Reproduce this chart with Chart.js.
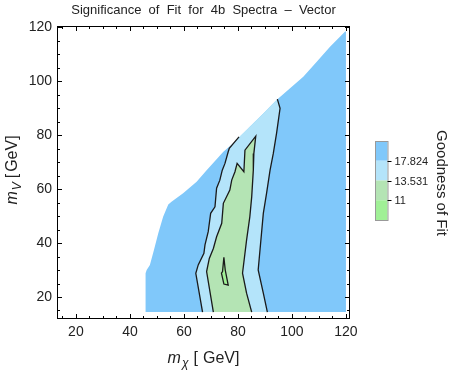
<!DOCTYPE html>
<html>
<head>
<meta charset="utf-8">
<script src="https://cdn.jsdelivr.net/npm/chart.js@4.4.1/dist/chart.umd.min.js"></script>
<style>
  html, body { margin: 0; padding: 0; background: #fff; }
  #wrap { width: 455px; height: 374px; }
</style>
</head>
<body>
<div id="wrap"><canvas id="fitChart" width="455" height="374"></canvas></div>
<script>
// points, [m_chi, m_V] in GeV
const domainEdge = [[45.6,14.4],[45.8,28.8],[46.2,30.0],[47.4,31.9],[48.9,37.4],[50.5,43.6],[52.3,49.7],
  [54.2,54.3],[55.4,55.3],[59.7,58.4],[64.7,62.7],[68.4,67.0],[74.6,73.8],[79.5,78.1],[84.4,83.1],
  [89.4,88.0],[94.3,93.0],[99.3,97.3],[104.2,101.6],[109.1,107.1],[114.1,112.7],[119.6,118.3],[120,118.5],[120,14.4]];
// contour at 17.824 (left and right branch)
const outerLeft = [[66.9,14.4],[64.4,28.8],[65.3,31.9],[67.4,36.2],[67.8,39.3],[69.0,44.2],[69.9,51.0],[71.5,53.4],
  [72.1,60.3],[73.3,63.3],[74.2,67.0],[75.2,69.5],[76.4,73.8],[76.8,75.1],[80.4,79.3]];
const outerRight = [[94.6,93.3],[95.6,89.9],[94.3,80.6],[93.1,73.2],[91.9,67.0],[90.6,58.4],[89.4,51.0],
  [87.5,30.0],[89.4,21.4],[90.9,14.4]];
// contour at 13.531
const innerLeft = [[70.9,14.4],[68.4,29.4],[69.4,34.3],[70.9,38.0],[72.1,42.3],[74.0,47.3],[74.6,54.7],[77.0,59.6],
  [77.7,63.3],[78.9,66.4],[79.7,69.5],[82.2,66.4],[82.6,74.4],[86.6,79.6]];
const innerRight = [[85.9,73.2],[85.7,67.0],[85.1,57.1],[84.4,49.7],[83.2,41.1],[81.7,28.8],[83.2,21.4],[85.1,14.4]];
// small island below 11
const coreLoop = [[74.8,34.7],[74.3,29.4],[73.9,28.8],[74.8,24.8],[76.4,24.4],[75.3,30.0]];

const xTicks = [20, 40, 60, 80, 100, 120];
const yTicks = [20, 40, 60, 80, 100, 120];
const levels = [17.824, 13.531, 11];
const levelColors = ['#80c8fa', '#b4e4fa', '#b4e4b4', '#a0f096'];

const font = "'Liberation Sans', Arial, sans-serif";
const ink = '#222';

function pts(list) { return list.map(p => ({x: p[0], y: p[1]})); }
function area(list, color) {
  return {data: pts(list), showLine: true, fill: 'shape', backgroundColor: color,
    borderColor: 'rgba(0,0,0,0)', borderWidth: 0, pointRadius: 0, tension: 0};
}
function contour(list) {
  return {data: pts(list), showLine: true, fill: false, borderColor: '#1a1a1a',
    borderWidth: 1.3, pointRadius: 0, tension: 0};
}

const edgePart = domainEdge.filter(p => p[0] > outerLeft[outerLeft.length - 1][0] && p[0] < outerRight[0][0]);
const lightBlue = outerLeft.concat(edgePart, outerRight);
const green = innerLeft.concat(innerRight);

// frame with inward ticks, tick labels, axis labels and the colour bar
const decor = {
  id: 'decor',
  afterDraw(chart) {
    const {ctx, chartArea: a, scales: {x, y}} = chart;
    ctx.save();
    ctx.strokeStyle = '#000';
    ctx.lineWidth = 1;
    ctx.strokeRect(a.left + 0.5, a.top + 0.5, a.width - 1, a.height - 1);

    ctx.beginPath();
    for (let v = 15; v <= 120; v += 5) {
      const len = xTicks.includes(v) ? 5 : 3;
      const px = Math.round(x.getPixelForValue(v)) + 0.5;
      ctx.moveTo(px, a.bottom); ctx.lineTo(px, a.bottom - len);
      ctx.moveTo(px, a.top); ctx.lineTo(px, a.top + len);
      const py = Math.round(y.getPixelForValue(v)) + 0.5;
      ctx.moveTo(a.left, py); ctx.lineTo(a.left + len, py);
      ctx.moveTo(a.right, py); ctx.lineTo(a.right - len, py);
    }
    ctx.stroke();

    ctx.fillStyle = ink;
    ctx.font = '14px ' + font;
    ctx.textBaseline = 'middle';
    ctx.textAlign = 'center';
    xTicks.forEach(v => ctx.fillText(String(v), x.getPixelForValue(v), a.bottom + 13.5));
    ctx.textAlign = 'right';
    yTicks.forEach(v => ctx.fillText(String(v), a.left - 5, y.getPixelForValue(v)));

    // axis titles: italic m with subscript, then [GeV]
    function label(sub, gap1, gap2, cx, baseY) {
      ctx.textAlign = 'left';
      ctx.textBaseline = 'alphabetic';
      const parts = [
        {t: 'm', f: 'italic 16px ' + font, dy: 0, after: 1},
        {t: sub, f: 'italic 12px ' + font, dy: 4, after: gap1},
        {t: '[', f: '16px ' + font, dy: 0, after: gap2},
        {t: 'GeV]', f: '16px ' + font, dy: 0, after: 0}
      ];
      let w = 0;
      parts.forEach(p => { ctx.font = p.f; p.w = ctx.measureText(p.t).width; w += p.w + p.after; });
      let cur = cx - w / 2;
      parts.forEach(p => { ctx.font = p.f; ctx.fillText(p.t, cur, baseY + p.dy); cur += p.w + p.after; });
    }
    label('\u03C7', 5, 5, (a.left + a.right) / 2, 363);
    ctx.save();
    ctx.translate(16.5, 0);
    ctx.rotate(-Math.PI / 2);
    label('V', 4, 2, -170, 0);
    ctx.restore();

    // colour bar
    const bx = a.right + 25, bw = 12.5, bTop = 141, bh = 79;
    const band = bh / levelColors.length;
    levelColors.forEach((c, i) => {
      ctx.fillStyle = c;
      ctx.fillRect(bx, bTop + i * band, bw, band);
    });
    ctx.strokeStyle = '#999';
    ctx.strokeRect(bx + 0.5, bTop + 0.5, bw, bh);
    ctx.strokeStyle = '#000';
    ctx.beginPath();
    ctx.fillStyle = ink;
    ctx.font = '11px ' + font;
    ctx.textAlign = 'left';
    ctx.textBaseline = 'middle';
    levels.forEach((v, i) => {
      const py = Math.round(bTop + (i + 1) * band) + 0.5;
      ctx.moveTo(bx + bw, py); ctx.lineTo(bx + bw + 4, py);
      ctx.fillText(String(v), bx + bw + 7, py);
    });
    ctx.stroke();

    ctx.save();
    ctx.translate(437, 183);
    ctx.rotate(Math.PI / 2);
    ctx.font = '15px ' + font;
    ctx.textAlign = 'center';
    ctx.textBaseline = 'alphabetic';
    ctx.fillText('Goodness of Fit', 0, 0);
    ctx.restore();
    ctx.restore();
  }
};

new Chart(document.getElementById('fitChart'), {
  type: 'scatter',
  data: {
    datasets: [
      contour(coreLoop.concat([coreLoop[0]])),
      contour(innerLeft.concat(innerRight)),
      contour(outerLeft),
      contour(outerRight),
      area(coreLoop, levelColors[3]),
      area(green, levelColors[2]),
      area(lightBlue, levelColors[1]),
      area(domainEdge, levelColors[0])
    ]
  },
  options: {
    responsive: false,
    animation: false,
    events: [],
    layout: { padding: { left: 57, right: 105, top: 0, bottom: 55 } },
    scales: {
      x: { type: 'linear', min: 13, max: 121.5, display: false },
      y: { type: 'linear', min: 11.85, max: 120.4, display: false }
    },
    plugins: {
      legend: { display: false },
      tooltip: { enabled: false },
      title: {
        display: true,
        fullSize: false,
        text: 'Significance  of  Fit  for  4b  Spectra  \u2013  Vector',
        color: ink,
        font: { family: font, size: 13, weight: 'normal' },
        padding: { top: 2.5, bottom: 7.9 }
      }
    }
  },
  plugins: [decor]
});
</script>
</body>
</html>
